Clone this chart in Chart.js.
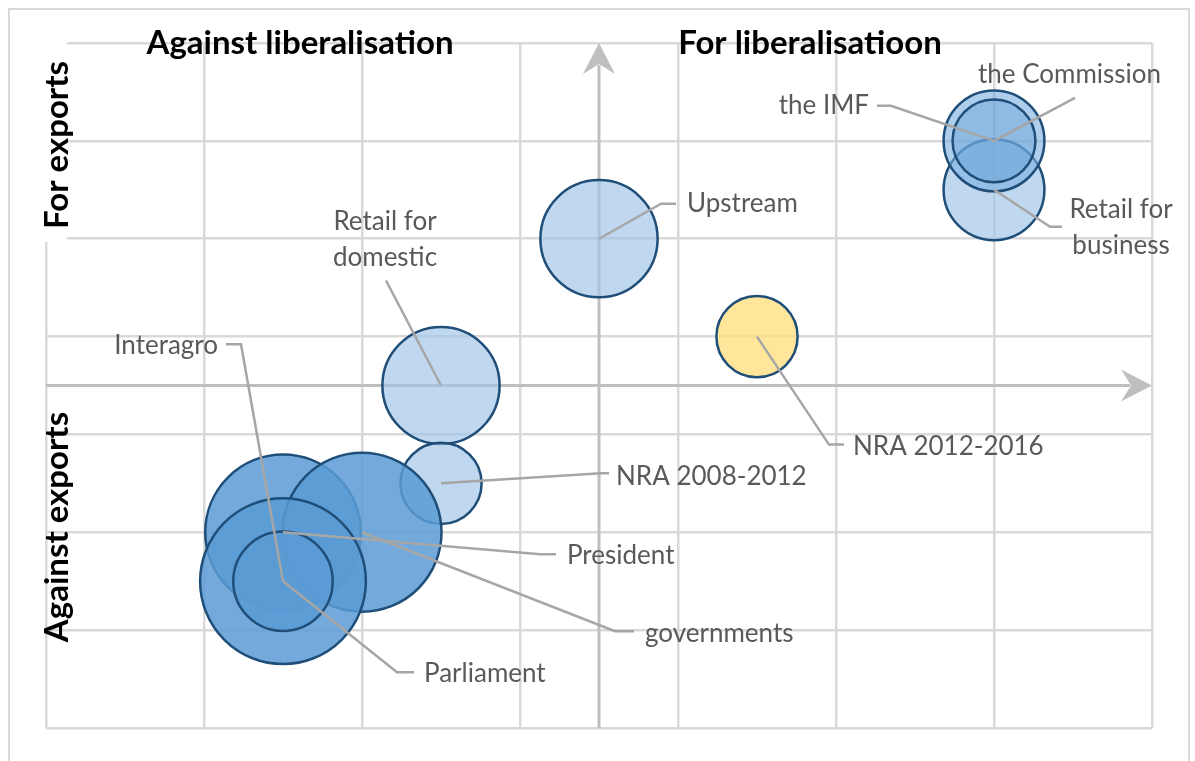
<!DOCTYPE html>
<html lang="en">
<head>
<meta charset="UTF-8" />
<title>Stakeholder map</title>
<script src="https://cdn.jsdelivr.net/npm/chart.js"></script>
<style>
  body { margin: 0; background: #fff; }
  #wrap { width: 1195px; height: 761px; position: relative; }
</style>
</head>
<body>
<div id="wrap"><canvas id="chart"></canvas></div>
<script>
// actors, their stance on liberalisation (x) and exports (y), and weight (bubble size)
const actors = [['Retail for', 'business'], 'the IMF', 'the Commission', 'Upstream', 'NRA 2012-2016',
  ['Retail for', 'domestic'], 'NRA 2008-2012', 'President', 'governments', 'Parliament', 'Interagro']
const liberalisation = [2.5, 2.5, 2.5, 0, 1, -1, -1, -2, -1.5, -2, -2]
const exportStance = [2, 2.5, 2.5, 1.5, 0.5, 0, -1, -1.5, -1.5, -2, -2]
const weight = [3.7, 3.7, 2.5, 5, 2.4, 5, 2.4, 8.8, 9.2, 10, 3.6]
const gridTicks = [-3.5, -2.5, -1.5, -0.5, 0.5, 1.5, 2.5, 3.5]
const topTitles = ['Against liberalisation', 'For liberalisatioon']
const sideTitles = ['For exports', 'Against exports']

const LIGHT = 'rgba(157,195,230,0.65)'
const MID = 'rgba(91,155,213,0.85)'
const fills = [LIGHT, 'rgba(120,174,224,0.6)', 'rgba(91,155,213,0.38)', LIGHT, 'rgba(255,222,120,0.75)',
  LIGHT, LIGHT, MID, MID, MID, MID]

// leader line layout, px offsets from the bubble centre
const labelLayout = [
  { elbow: [56, 37], stub: 12, text: [127, 20], align: 'center' },
  { elbow: [-103, -35], stub: -14, text: [-125, -35], align: 'right' },
  { elbow: [81, -43], stub: 0, text: [-16, -66], align: 'left' },
  { elbow: [62, -35], stub: 15, text: [88, -35], align: 'left' },
  { elbow: [72, 108], stub: 15, text: [96, 110], align: 'left' },
  { elbow: [-55, -105], stub: 0, text: [-56, -164], align: 'center' },
  { elbow: [160, -10], stub: 8, text: [175, -7], align: 'left' },
  { elbow: [257, 22], stub: 16, text: [284, 23], align: 'left' },
  { elbow: [253, 99], stub: 19, text: [283, 101], align: 'left' },
  { elbow: [114, 91], stub: 17, text: [141, 92], align: 'left' },
  { elbow: [-42, -237], stub: -15, text: [-65, -236], align: 'right' }
]

const points = actors.map((a, i) => ({ x: liberalisation[i], y: exportStance[i] }))

function bubbleRadius(ctx) {
  const area = ctx.chart.chartArea
  const h = area ? area.bottom - area.top : 685
  return 0.121 * h * Math.sqrt(weight[ctx.dataIndex] / Math.max(...weight))
}

function arrowHead(ctx, tipX, tipY, dx, dy) {
  // stealth arrow pointing along (dx, dy)
  const px = -dy, py = dx
  ctx.beginPath()
  ctx.moveTo(tipX, tipY)
  ctx.lineTo(tipX - dx * 31 + px * 16, tipY - dy * 31 + py * 16)
  ctx.lineTo(tipX - dx * 21, tipY - dy * 21)
  ctx.lineTo(tipX - dx * 31 - px * 16, tipY - dy * 31 - py * 16)
  ctx.closePath()
  ctx.fill()
}

const decor = {
  id: 'decor',
  beforeDatasetsDraw(chart) {
    const { ctx, chartArea: a, scales: { x, y } } = chart
    ctx.save()
    // white box behind the "For exports" label
    ctx.fillStyle = '#fff'
    ctx.fillRect(10, 10, 57, 232)
    // cross axes
    const x0 = x.getPixelForValue(0), y0 = y.getPixelForValue(0)
    ctx.strokeStyle = '#bfbfbf'
    ctx.fillStyle = '#bfbfbf'
    ctx.lineWidth = 3
    ctx.beginPath()
    ctx.moveTo(x0, a.bottom); ctx.lineTo(x0, a.top + 22)
    ctx.moveTo(a.left, y0); ctx.lineTo(a.right - 22, y0)
    ctx.stroke()
    arrowHead(ctx, x0, a.top, 0, -1)
    arrowHead(ctx, a.right, y0, 1, 0)
    ctx.restore()
  },
  afterDatasetsDraw(chart) {
    const { ctx, scales: { x, y } } = chart
    ctx.save()
    // leader lines and labels
    ctx.strokeStyle = '#a6a6a6'
    ctx.lineWidth = 2.5
    ctx.fillStyle = '#595959'
    ctx.font = '26px Lato'
    ctx.textBaseline = 'middle'
    points.forEach((p, i) => {
      const cx = x.getPixelForValue(p.x), cy = y.getPixelForValue(p.y)
      const L = labelLayout[i]
      const ex = cx + L.elbow[0], ey = cy + L.elbow[1]
      ctx.beginPath()
      ctx.moveTo(cx, cy)
      ctx.lineTo(ex, ey)
      ctx.lineTo(ex + L.stub, ey)
      ctx.stroke()
      const lines = Array.isArray(actors[i]) ? actors[i] : [actors[i]]
      ctx.textAlign = L.align
      lines.forEach((t, k) => ctx.fillText(t, cx + L.text[0], cy + L.text[1] + k * 36))
    })
    // titles
    ctx.fillStyle = '#000'
    ctx.font = 'bold 33px Lato'
    ctx.textAlign = 'center'
    ctx.fillText(topTitles[0], 300, 43)
    ctx.fillText(topTitles[1], 810, 43)
    ctx.save()
    ctx.translate(57, 145)
    ctx.rotate(-Math.PI / 2)
    ctx.fillText(sideTitles[0], 0, 0)
    ctx.restore()
    ctx.save()
    ctx.translate(57, 527)
    ctx.rotate(-Math.PI / 2)
    ctx.fillText(sideTitles[1], 0, 0)
    ctx.restore()
    // outer frame
    ctx.strokeStyle = '#d9d9d9'
    ctx.lineWidth = 2
    ctx.beginPath()
    ctx.moveTo(9, 770); ctx.lineTo(9, 9); ctx.lineTo(1189, 9); ctx.lineTo(1189, 770)
    ctx.stroke()
    ctx.restore()
  }
}

new Chart(document.getElementById('chart'), {
  type: 'bubble',
  data: {
    labels: actors,
    datasets: [{
      data: points,
      backgroundColor: fills,
      borderColor: '#1f4e79',
      borderWidth: 2.5,
      radius: bubbleRadius
    }]
  },
  options: {
    responsive: true,
    maintainAspectRatio: false,
    animation: false,
    events: [],
    layout: { autoPadding: false, padding: { left: 46, top: 43, right: 43, bottom: 33 } },
    plugins: { legend: { display: false }, tooltip: { enabled: false } },
    scales: {
      x: {
        min: -3.5, max: 3.5,
        afterBuildTicks: s => { s.ticks = gridTicks.map(v => ({ value: v })) },
        ticks: { display: false },
        grid: { color: '#d9d9d9', lineWidth: 2.5, drawTicks: false },
        border: { display: false }
      },
      y: {
        min: -3.5, max: 3.5,
        afterBuildTicks: s => { s.ticks = gridTicks.map(v => ({ value: v })) },
        ticks: { display: false },
        grid: { color: '#d9d9d9', lineWidth: 2.5, drawTicks: false },
        border: { display: false }
      }
    }
  },
  plugins: [decor]
})
</script>
</body>
</html>
